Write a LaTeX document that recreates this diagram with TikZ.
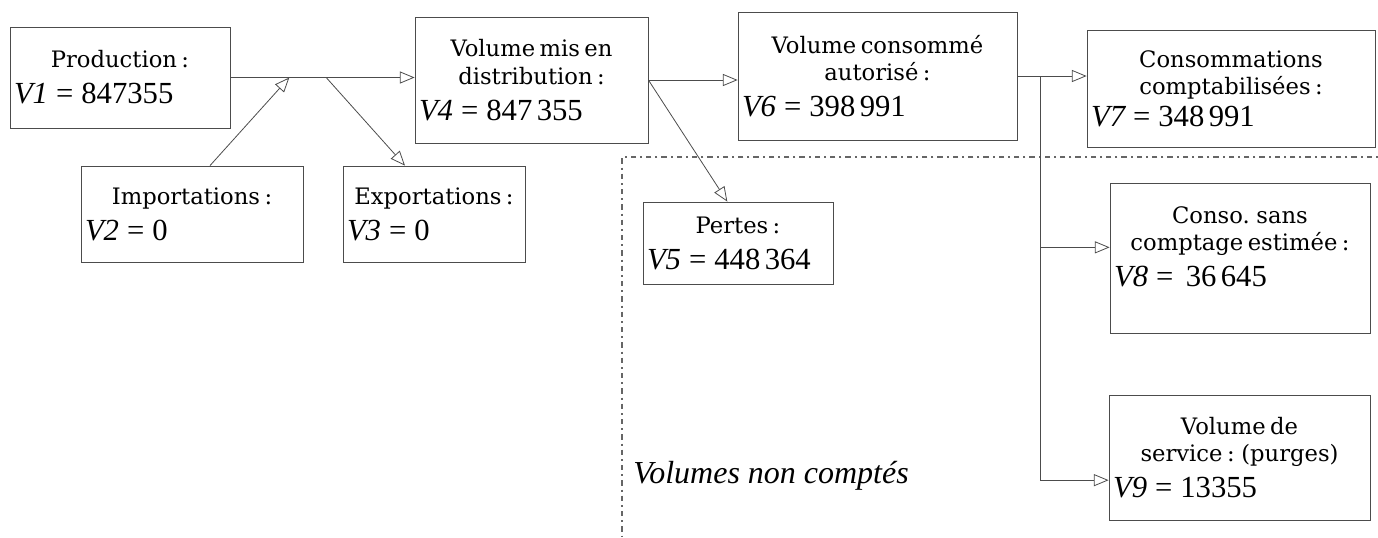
\documentclass[tikz,border=0pt]{standalone}
\usepackage{fontspec}
\setmainfont{Liberation Serif}
\newfontfamily\headfont{DejaVu Serif}
\usetikzlibrary{arrows.meta,calc}

% text of one box: centred heading, value line on the left
\newcommand{\boxtext}[3][0pt]{{\centering\headfont\fontsize{17}{20.5}\selectfont #2\par}\vspace{#1}{\raggedright\fontsize{23}{27}\selectfont #3\par}}
\newcommand{\eqv}{\hspace{6pt}=\hspace{6pt}}

\tikzset{
  box/.style={draw=black!70, line width=0.6pt, inner xsep=3pt, inner ysep=2pt},
  flow/.style={draw=black!70, line width=0.6pt, -{Triangle[open, length=11pt, width=9pt]}},
  link/.style={draw=black!70, line width=0.6pt},
  border/.style={draw=black!60, line width=1pt, dash pattern=on 1.5pt off 3pt on 4pt off 3pt},
}

\begin{document}
\begin{tikzpicture}[x=0.75pt,y=0.75pt,yscale=-1,xscale=1]
\useasboundingbox (0,0) rectangle (1378,537);

% boxes
\node[box, minimum width=165pt, minimum height=75.75pt, text width=159pt] (v1) at (120,77.5)
  {\boxtext{Production :}{{\itshape V1}\eqv 847355}};
\node[box, minimum width=166.5pt, minimum height=72pt, text width=160.5pt] (v2) at (192,214)
  {\boxtext{Importations :}{{\itshape V2}\eqv 0}};
\node[box, minimum width=136.5pt, minimum height=72pt, text width=130.5pt] (v3) at (434,214)
  {\boxtext{Exportations :}{{\itshape V3}\eqv 0}};
\node[box, minimum width=174.75pt, minimum height=94.5pt, text width=168.75pt] (v4) at (531.5,80)
  {\boxtext{Volume mis en\\ distribution :}{{\itshape V4}\eqv 847 355}};
\node[box, minimum width=142.5pt, minimum height=61.5pt, text width=136.5pt] (v5) at (738,243)
  {\boxtext{Pertes :}{{\itshape V5}\eqv 448 364}};
\node[box, minimum width=209.25pt, minimum height=96pt, text width=203.25pt] (v6) at (877.5,76)
  {\boxtext{Volume consommé\\ autorisé :}{{\itshape V6}\eqv 398 991}};
\node[box, minimum width=216pt, minimum height=87.75pt, text width=210pt] (v7) at (1231,88.5)
  {\boxtext[-3pt]{Consommations\\ comptabilisées :}{{\itshape V7}\eqv 348 991}};
\node[box, minimum width=195pt, minimum height=112.5pt, text width=189pt] (v8) at (1240,258)
  {\boxtext{Conso. sans\\ comptage estimée :}{{\itshape V8}\eqv\ 36 645}\noindent\rule{0pt}{16pt}};
\node[box, minimum width=195.75pt, minimum height=93.75pt, text width=189.75pt] (v9) at (1239.5,457.5)
  {\boxtext{Volume de\\ service : (purges)}{{\itshape V9}\eqv 13355}};

% boundary of the volumes not counted
\coordinate (nc1) at (1378,157);
\coordinate (nc2) at (622,157);
\coordinate (nc3) at (622,537);
\draw[border] (nc1) -- (nc2) -- (nc3);
\node[anchor=west, inner sep=0pt, font=\itshape\fontsize{24}{28}\selectfont] (nc) at (633,476) {Volumes non comptés};

% flows
\coordinate (j1) at ($(v1.east)!0.32!(v1.east -| v4.west)$);
\coordinate (j2) at ($(v1.east)!0.52!(v1.east -| v4.west)$);
\draw[flow] (v1.east) -- (v1.east -| v4.west);
\draw[flow] ([xshift=13.5pt]v2.north) -- (j1);
\draw[flow] (j2) -- ([xshift=-21.75pt]v3.north);
\draw[flow] (v4.east) -- (v4.east -| v6.west);
\draw[flow] (v4.east) -- ([xshift=-8pt]v5.north);
\draw[flow] (v6.east) -- (v6.east -| v7.west);

\coordinate (br) at ($(v6.east)!0.33!(v6.east -| v7.west)$);
\coordinate (b8) at ([yshift=-8pt]v8.west);
\coordinate (b9) at ([yshift=17pt]v9.west);
\draw[link] (br) -- (br |- b9);
\draw[flow] (br |- b8) -- (b8);
\draw[flow] (br |- b9) -- (b9);

\end{tikzpicture}
\end{document}
